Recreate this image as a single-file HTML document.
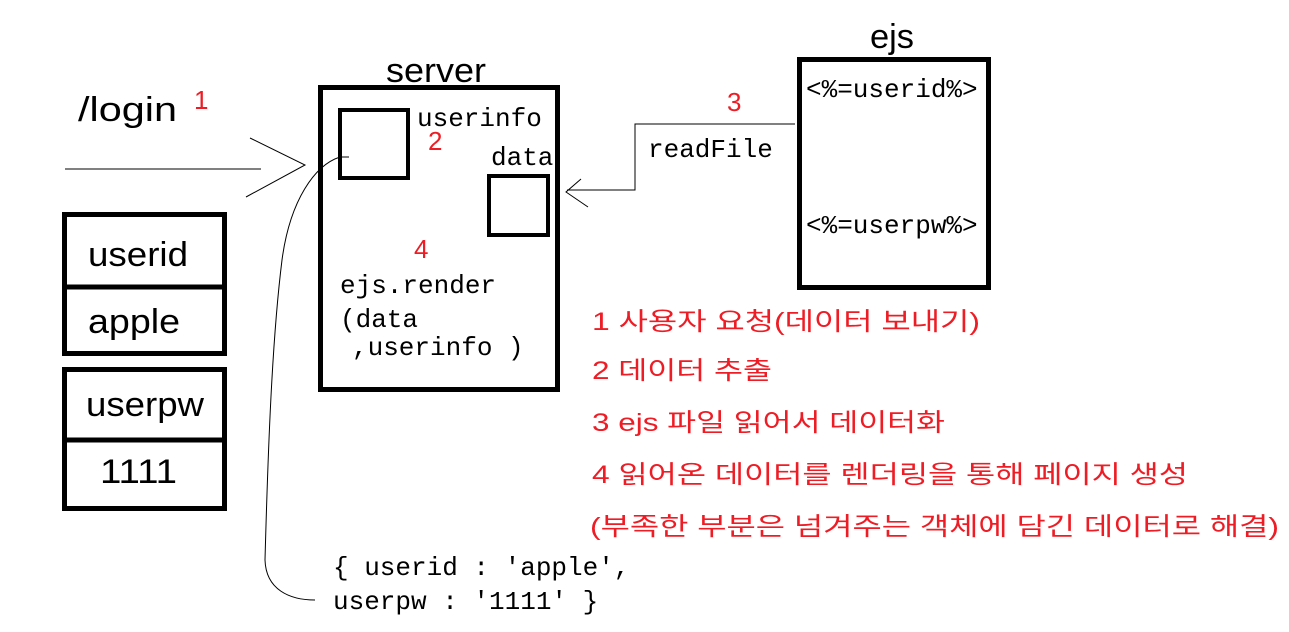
<!DOCTYPE html>
<html><head><meta charset="utf-8"><style>
html,body{margin:0;padding:0;background:#fff;}
svg{display:block;}
.s{font-family:"Liberation Sans","Noto Sans CJK KR",sans-serif;}
.m{font-family:"Liberation Mono","DejaVu Sans Mono",monospace;font-size:26px;}
.r{fill:#ee1c24;}
</style></head><body>
<svg width="1289" height="632" viewBox="0 0 1289 632" xmlns="http://www.w3.org/2000/svg">
<rect width="1289" height="632" fill="#fff"/>
<g fill="none" stroke="#000" stroke-width="5">
<rect x="320.5" y="87.5" width="237" height="302"/>
<rect x="340" y="110" width="68" height="68" stroke-width="4"/>
<rect x="489" y="176" width="59" height="59" stroke-width="4"/>
<rect x="799.5" y="59.5" width="189" height="228"/>
<rect x="64.5" y="214.5" width="160" height="139"/>
<line x1="64" y1="287" x2="225" y2="287"/>
<rect x="64.5" y="369.5" width="160" height="139"/>
<line x1="64" y1="440" x2="225" y2="440"/>
</g>
<g fill="none" stroke="#000" stroke-width="1">
<line x1="65" y1="169" x2="261" y2="169"/>
<polyline points="250,138 305,165 246,197"/>
<path d="M349,157 L340,157 C315,165 290,200 282,260 C272,340 268,450 265,560 C266,590 290,600 315,600"/>
<polyline points="795,124 635,124 635,190 567,190"/>
<polyline points="581,179 566,192 588,207"/>
</g>
<g class="s" font-size="34">
<text x="386" y="82" textLength="100" lengthAdjust="spacingAndGlyphs">server</text>
<text x="870" y="48" textLength="44" lengthAdjust="spacingAndGlyphs">ejs</text>
<text x="78" y="121" textLength="99" lengthAdjust="spacingAndGlyphs">/login</text>
<text x="88" y="266" textLength="100" lengthAdjust="spacingAndGlyphs">userid</text>
<text x="88" y="333" textLength="92" lengthAdjust="spacingAndGlyphs">apple</text>
<text x="86" y="416" textLength="118" lengthAdjust="spacingAndGlyphs">userpw</text>
<text x="100" y="483" textLength="77" lengthAdjust="spacingAndGlyphs">1111</text>
</g>
<g class="s r" font-size="26">
<text x="194" y="109">1</text>
<text x="428" y="150">2</text>
<text x="414" y="258">4</text>
<text x="727" y="111">3</text>
</g>
<g class="m">
<text x="417" y="126">userinfo</text>
<text x="491" y="165">data</text>
<text x="340" y="293">ejs.render</text>
<text x="340" y="327">(data</text>
<text x="352" y="355">,userinfo )</text>
<text x="648" y="157">readFile</text>
<text x="806" y="97">&lt;%=userid%&gt;</text>
<text x="806" y="233">&lt;%=userpw%&gt;</text>
<text x="333" y="575">{ userid : 'apple',</text>
<text x="333" y="609">userpw : '1111' }</text>
</g>
<g class="s r" font-size="25">
<text x="592" y="330" textLength="388" lengthAdjust="spacingAndGlyphs">1  사용자 요청(데이터 보내기)</text>
<text x="592" y="379" textLength="180" lengthAdjust="spacingAndGlyphs">2 데이터 추출</text>
<text x="592" y="431" textLength="353" lengthAdjust="spacingAndGlyphs">3 ejs 파일 읽어서 데이터화</text>
<text x="592" y="483" textLength="596" lengthAdjust="spacingAndGlyphs">4 읽어온 데이터를 렌더링을 통해 페이지 생성</text>
<text x="590" y="535" textLength="689" lengthAdjust="spacingAndGlyphs">(부족한 부분은 넘겨주는 객체에 담긴 데이터로 해결)</text>
</g>
</svg>
</body></html>
